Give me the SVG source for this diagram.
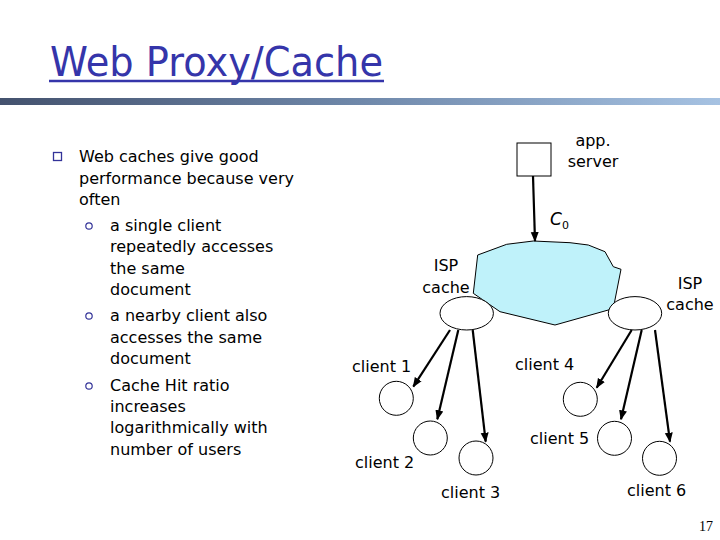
<svg xmlns="http://www.w3.org/2000/svg" width="720" height="540" viewBox="0 0 720 540">
<defs>
<linearGradient id="bar" x1="0" y1="0" x2="1" y2="0">
<stop offset="0" stop-color="#44526e"/>
<stop offset="0.5" stop-color="#6f88aa"/>
<stop offset="1" stop-color="#a6c2e2"/>
</linearGradient>
<marker id="ah" markerUnits="userSpaceOnUse" markerWidth="10" markerHeight="10" viewBox="0 0 10 10" refX="9" refY="5" orient="auto">
<path d="M0,1 L10,5 L0,9 Z" fill="#000"/>
</marker>
</defs>
<style>
.t{font-family:"DejaVu Sans",sans-serif;font-size:16px;fill:#000}
.n{fill:#fff;stroke:#000;stroke-width:1}
.c{stroke:#000;stroke-width:2.2;fill:none;marker-end:url(#ah)}
</style>
<rect width="720" height="540" fill="#fff"/>
<g id="title">
<text x="50" y="76" font-family="DejaVu Sans,sans-serif" font-size="40" fill="#3535aa" textLength="333" lengthAdjust="spacingAndGlyphs">Web Proxy/Cache</text>
<line x1="49" y1="81" x2="384" y2="81" stroke="#3535aa" stroke-width="2.5"/>
<rect x="0" y="98" width="720" height="7" fill="url(#bar)"/>
</g>
<g id="bullets">
<rect x="53.5" y="152.5" width="8" height="8" fill="none" stroke="#333399" stroke-width="1.3"/>
<text class="t" x="79" y="162">Web caches give good</text>
<text class="t" x="79" y="184">performance because very</text>
<text class="t" x="79" y="205">often</text>
<circle cx="89" cy="226" r="3.2" fill="none" stroke="#333399" stroke-width="1.2"/>
<text class="t" x="110" y="231">a single client</text>
<text class="t" x="110" y="252">repeatedly accesses</text>
<text class="t" x="110" y="274">the same</text>
<text class="t" x="110" y="295">document</text>
<circle cx="89" cy="316" r="3.2" fill="none" stroke="#333399" stroke-width="1.2"/>
<text class="t" x="110" y="321">a nearby client also</text>
<text class="t" x="110" y="343">accesses the same</text>
<text class="t" x="110" y="364">document</text>
<circle cx="89" cy="386" r="3.2" fill="none" stroke="#333399" stroke-width="1.2"/>
<text class="t" x="110" y="391">Cache Hit ratio</text>
<text class="t" x="110" y="412">increases</text>
<text class="t" x="110" y="433">logarithmically with</text>
<text class="t" x="110" y="455">number of users</text>
</g>
<g id="network">
<polygon points="477.7,255 506.7,244.3 533.3,241 570,242.7 588.3,245 605,251.7 613.3,266.7 621,269.3 613.3,308.3 608.3,310 555,325 500,311.7 473.3,293.3" fill="#bff2fa" stroke="#000" stroke-width="1"/>
</g>
<g id="server">
<rect class="n" x="517" y="143" width="34" height="33"/>
<text class="t" x="593" y="146" text-anchor="middle">app.</text>
<text class="t" x="593" y="167" text-anchor="middle">server</text>
</g>
<g id="isp-left">
<ellipse class="n" cx="466.7" cy="313.3" rx="26.7" ry="16.7"/>
<text class="t" x="446" y="271" text-anchor="middle">ISP</text>
<text class="t" x="446" y="293" text-anchor="middle">cache</text>
</g>
<g id="isp-right">
<ellipse class="n" cx="635" cy="313.3" rx="26.7" ry="16.7"/>
<text class="t" x="690" y="289" text-anchor="middle">ISP</text>
<text class="t" x="690" y="310" text-anchor="middle">cache</text>
</g>
<g id="client1"><circle class="n" cx="396.3" cy="398.3" r="17"/><text class="t" x="352" y="372">client 1</text></g>
<g id="client2"><circle class="n" cx="430.3" cy="438" r="17"/><text class="t" x="355" y="468">client 2</text></g>
<g id="client3"><circle class="n" cx="476" cy="458" r="17"/><text class="t" x="441" y="498">client 3</text></g>
<g id="client4"><circle class="n" cx="580.3" cy="399.3" r="17"/><text class="t" x="515" y="370">client 4</text></g>
<g id="client5"><circle class="n" cx="614.5" cy="438.3" r="17"/><text class="t" x="530" y="444">client 5</text></g>
<g id="client6"><circle class="n" cx="659.5" cy="458.3" r="17"/><text class="t" x="627" y="496">client 6</text></g>
<g id="connectors">
<line class="c" x1="533" y1="176" x2="535" y2="241"/>
<line class="c" x1="450" y1="330" x2="413.3" y2="386.7"/>
<line class="c" x1="458.3" y1="330" x2="437.3" y2="419.3"/>
<line class="c" x1="472.7" y1="330" x2="485.7" y2="441.7"/>
<line class="c" x1="631.7" y1="330" x2="596.7" y2="387.7"/>
<line class="c" x1="641.7" y1="330" x2="621" y2="419.3"/>
<line class="c" x1="655" y1="330" x2="670" y2="441.7"/>
</g>
<g id="label-c0">
<text x="550" y="225" font-family="DejaVu Sans,sans-serif" font-size="17" font-style="italic">C</text>
<text x="562" y="229" font-family="DejaVu Sans,sans-serif" font-size="11">0</text>
</g>
<text x="706" y="531" font-family="Liberation Serif,serif" font-size="14" text-anchor="middle">17</text>
</svg>
